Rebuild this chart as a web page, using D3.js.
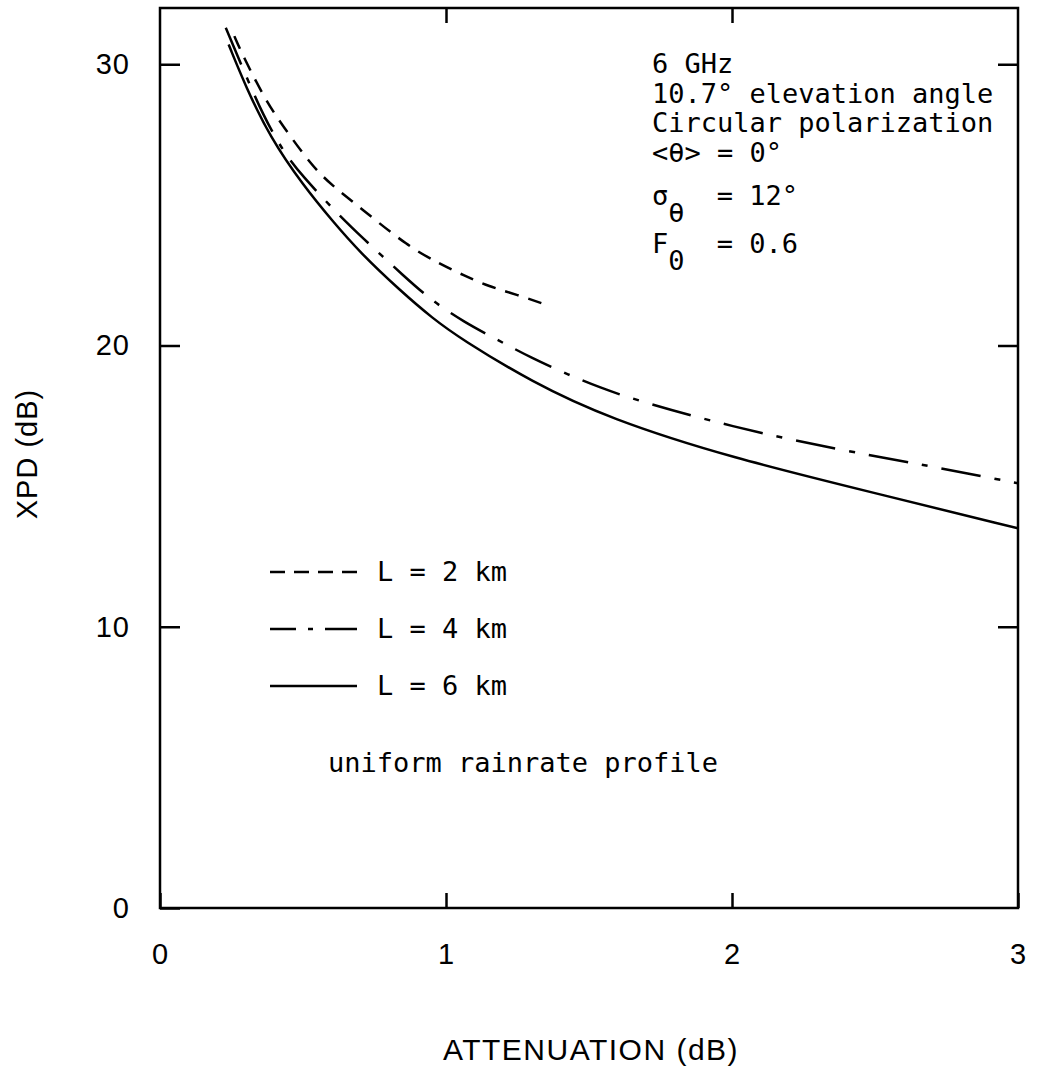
<!DOCTYPE html>
<html>
<head>
<meta charset="utf-8">
<script src="https://cdn.jsdelivr.net/npm/d3@7"></script>
<style>
  body { margin: 0; background: #fff; }
  svg { display: block; }
</style>
</head>
<body>
<div id="chart"></div>
<script>
// XPD vs attenuation, 6 GHz
var atten2 = [0.26, 0.29, 0.37, 0.43, 0.53, 0.60, 0.70, 0.87, 0.98, 1.06, 1.15, 1.25, 1.35];
var xpd2   = [31.0, 30.3, 28.7, 27.8, 26.4, 25.7, 24.9, 23.5, 22.9, 22.5, 22.1, 21.8, 21.45];

var atten4 = [0.23, 0.30, 0.36, 0.43, 0.50, 0.61, 0.70, 0.86, 0.95, 1.06, 1.18, 1.30, 1.43, 1.54, 1.65, 2.0, 2.37, 2.7, 3.0];
var xpd4   = [31.3, 29.6, 28.2, 26.9, 26.0, 24.8, 23.9, 22.4, 21.6, 20.85, 20.2, 19.55, 18.95, 18.5, 18.1, 17.1, 16.3, 15.7, 15.1];

var atten6 = [0.24, 0.30, 0.385, 0.50, 0.605, 0.70, 0.84, 0.955, 1.05, 1.30, 1.57, 2.0, 2.5, 3.0];
var xpd6   = [30.7, 29.2, 27.4, 25.7, 24.4, 23.3, 21.95, 20.95, 20.25, 18.7, 17.4, 16.0, 14.75, 13.5];

var xTicks = [0, 1, 2, 3];
var yTicks = [0, 10, 20, 30];
var legendLabels = ["L = 2 km", "L = 4 km", "L = 6 km"];
var notes = ["6 GHz", "10.7\u00b0 elevation angle", "Circular polarization", "<\u03b8> = 0\u00b0"];

var width = 1041,
    height = 1087;

// plot frame (note: "top" is taken by window.top, so prefix these)
var pLeft = 160, pRight = 1018, pTop = 8, pBottom = 908;

var mono = "'DejaVu Sans Mono', monospace",
    sans = "'Liberation Sans', Arial, sans-serif";

var svg = d3.select("#chart").append("svg")
    .attr("width", width)
    .attr("height", height);

var x = d3.scaleLinear().domain([0, 3]).range([pLeft, pRight]);
var y = d3.scaleLinear().domain([0, 32]).range([pBottom, pTop]);

// axes: ticks point inward, frame drawn separately
var gLeft = svg.append("g")
    .attr("transform", "translate(" + pLeft + ",0)")
    .call(d3.axisLeft(y).tickValues(yTicks).tickSize(-20).tickPadding(30)
      .tickFormat(d3.format("d")));

var gBottom = svg.append("g")
    .attr("transform", "translate(0," + pBottom + ")")
    .call(d3.axisBottom(x).tickValues(xTicks).tickSize(-15).tickPadding(35)
      .tickFormat(d3.format("d")));

var gTop = svg.append("g")
    .attr("transform", "translate(0," + pTop + ")")
    .call(d3.axisTop(x).tickValues([1, 2]).tickSize(-15).tickFormat(""));

var gRight = svg.append("g")
    .attr("transform", "translate(" + pRight + ",0)")
    .call(d3.axisRight(y).tickValues([10, 20, 30]).tickSize(-20).tickFormat(""));

[gLeft, gBottom, gTop, gRight].forEach(function(g) {
  g.attr("font-size", null).attr("font-family", null);
  g.select(".domain").remove();
  g.selectAll("line").attr("stroke", "#000").attr("stroke-width", 2.5);
  g.selectAll("text")
      .attr("fill", "#000")
      .style("font-family", sans)
      .style("font-size", "29px")
      .style("letter-spacing", "1px");
});

svg.append("rect")
    .attr("x", pLeft)
    .attr("y", pTop)
    .attr("width", pRight - pLeft)
    .attr("height", pBottom - pTop)
    .attr("fill", "none")
    .attr("stroke", "#000")
    .attr("stroke-width", 2.5);

// axis titles
svg.append("text")
    .attr("transform", "translate(27,454) rotate(-90)")
    .attr("text-anchor", "middle")
    .attr("dominant-baseline", "central")
    .style("font-family", sans)
    .style("font-size", "29px")
    .style("letter-spacing", "1px")
    .text("XPD (dB)");

svg.append("text")
    .attr("x", 591)
    .attr("y", 1060)
    .attr("text-anchor", "middle")
    .style("font-family", sans)
    .style("font-size", "30px")
    .style("letter-spacing", "1.5px")
    .text("ATTENUATION (dB)");

// curves
var series = [
  {a: atten2, v: xpd2, dash: "14,10", legDash: "15,9"},
  {a: atten4, v: xpd4, dash: "40,14,6,14", legDash: "26,12,5,12,32"},
  {a: atten6, v: xpd6, dash: null, legDash: null}
];

var line = d3.line()
    .x(function(d) { return x(d[0]); })
    .y(function(d) { return y(d[1]); })
    .curve(d3.curveBasis);

svg.selectAll("path.curve")
    .data(series)
  .enter().append("path")
    .attr("class", "curve")
    .attr("d", function(s) { return line(d3.zip(s.a, s.v)); })
    .attr("fill", "none")
    .attr("stroke", "#000")
    .attr("stroke-width", 2.5)
    .attr("stroke-dasharray", function(s) { return s.dash; });

// legend
var legY = [572, 629, 686];

var leg = svg.selectAll("g.leg")
    .data(series)
  .enter().append("g")
    .attr("class", "leg")
    .attr("transform", function(d, i) { return "translate(0," + legY[i] + ")"; });

leg.append("line")
    .attr("x1", 270)
    .attr("x2", 357)
    .attr("stroke", "#000")
    .attr("stroke-width", 2.5)
    .attr("stroke-dasharray", function(s) { return s.legDash; });

leg.append("text")
    .attr("x", 377)
    .attr("y", 9)
    .style("font-family", mono)
    .style("font-size", "27px")
    .style("white-space", "pre")
    .text(function(d, i) { return legendLabels[i]; });

svg.append("text")
    .attr("x", 328)
    .attr("y", 772)
    .style("font-family", mono)
    .style("font-size", "27px")
    .text("uniform rainrate profile");

// parameter block, top right
var nx = 652, cw = 16.2;

svg.selectAll("text.note")
    .data(notes)
  .enter().append("text")
    .attr("class", "note")
    .attr("x", nx)
    .attr("y", function(d, i) { return [73, 103, 132, 162][i]; })
    .style("font-family", mono)
    .style("font-size", "27px")
    .text(function(d) { return d; });

function param(sym, sub, rest, base) {
  var g = svg.append("g")
      .style("font-family", mono)
      .style("font-size", "27px");
  g.append("text").attr("x", nx).attr("y", base).text(sym);
  g.append("text").attr("x", nx + cw).attr("y", base + 17).text(sub);
  g.append("text").attr("x", nx + 4 * cw).attr("y", base).text(rest);
}

param("\u03c3", "\u03b8", "= 12\u00b0", 205);
param("F", "0", "= 0.6", 253);
</script>
</body>
</html>
